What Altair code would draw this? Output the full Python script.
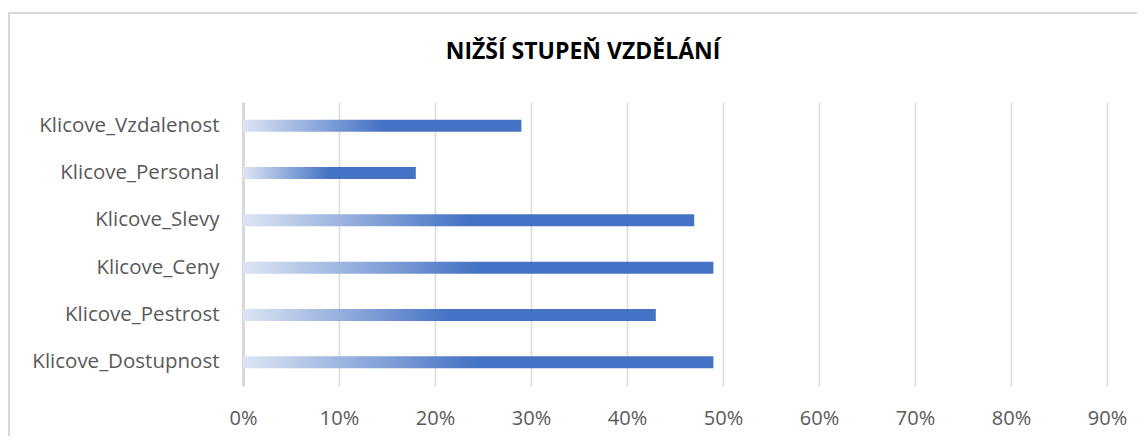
import altair as alt
import pandas as pd

title_text = "NIŽŠÍ STUPEŇ VZDĚLÁNÍ"
categories = ["Klicove_Vzdalenost", "Klicove_Personal", "Klicove_Slevy",
              "Klicove_Ceny", "Klicove_Pestrost", "Klicove_Dostupnost"]
values = [0.29, 0.18, 0.47, 0.49, 0.43, 0.49]
ticks = [0, 0.1, 0.2, 0.3, 0.4, 0.5, 0.6, 0.7, 0.8, 0.9]

df = pd.DataFrame({"cat": categories, "val": values})

grad = alt.Gradient(
    gradient="linear", x1=0, x2=1, y1=0, y2=0,
    stops=[alt.GradientStop(offset=0, color="#dde5f4"),
           alt.GradientStop(offset=0.5, color="#4472c4"),
           alt.GradientStop(offset=1, color="#4472c4")],
)

FONT = "Open Sans"

border = alt.Chart(df).mark_rect(filled=False, stroke="#d9d9d9", strokeWidth=1.5, clip=False).encode(
    x=alt.value(-234), x2=alt.value(1200), y=alt.value(-89), y2=alt.value(420)
)

title = alt.Chart(pd.DataFrame({"t": [title_text]})).mark_text(
    font=FONT, fontSize=23, fontWeight="bold", color="#000000", baseline="alphabetic", align="center"
).encode(text="t:N", x=alt.value(340), y=alt.value(-43))

bars = alt.Chart(df).mark_bar(size=12, fill=grad).encode(
    x=alt.X("val:Q", scale=alt.Scale(domain=[0, 0.9], nice=False),
            axis=alt.Axis(values=ticks, format=".0%", title=None, domain=False, ticks=False,
                          grid=True, gridColor="#d9d9d9", gridWidth=1.5,
                          labelFont=FONT, labelFontSize=20, labelColor="#595959",
                          labelPadding=22, labelFlush=False)),
    y=alt.Y("cat:N", sort=categories,
            axis=alt.Axis(title=None, ticks=False, domain=True, domainColor="#d9d9d9", domainWidth=3,
                          labelFont=FONT, labelFontSize=20.5, labelColor="#595959",
                          labelPadding=24, labelLimit=400, grid=False)),
)

chart = alt.layer(border, title, bars).properties(
    width=864, height=284,
    padding={"left": 235, "top": 94, "right": 30, "bottom": 50},
    autosize=alt.AutoSizeParams(type="none"),
    background="white",
).configure_view(strokeWidth=0, stroke="transparent")

chart.save("out.html", embed_options={"renderer": "svg", "actions": False})
